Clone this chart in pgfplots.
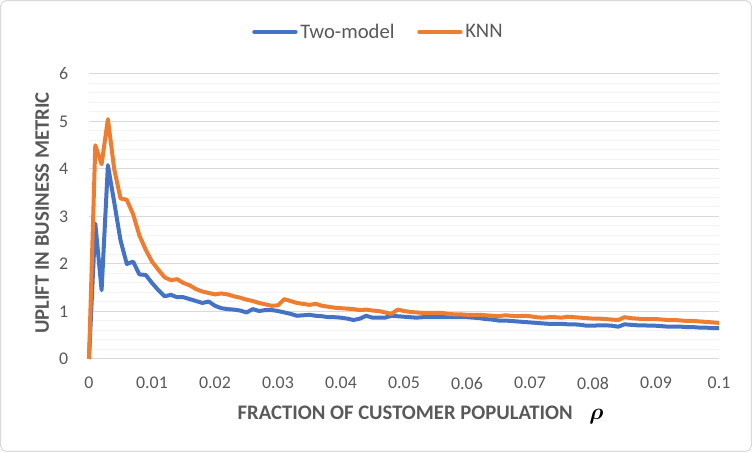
\documentclass[border=0pt]{standalone}
\usepackage{pgfplots}
\pgfplotsset{compat=1.18}
\usepackage{fontspec}
\setmainfont{Carlito}
\definecolor{cblue}{HTML}{4472C4}
\definecolor{corange}{HTML}{ED7D31}
\definecolor{ctext}{HTML}{595959}
\definecolor{cgrid}{HTML}{D9D9D9}
\definecolor{cminor}{HTML}{F2F2F2}
\begin{document}
\begin{tikzpicture}[x=1pt,y=1pt]
\useasboundingbox (0,0) rectangle (564,339);
\draw[color=cgrid, line width=0.75pt, rounded corners=4pt] (0.5,0.5) rectangle (563.5,338.5);
\begin{axis}[
  at={(66.75pt,69.75pt)}, anchor=south west,
  scale only axis, width=472.5pt, height=213.75pt,
  xmin=0, xmax=0.1, ymin=0, ymax=6,
  clip=false,
  /pgf/number format/assume math mode=true,
  xtick={0,0.01,0.02,0.03,0.04,0.05,0.06,0.07,0.08,0.09,0.1},
  xticklabels={0,0.01,0.02,0.03,0.04,0.05,0.06,0.07,0.08,0.09,0.1},
  ytick={0,1,2,3,4,5,6},
  yticklabels={0,1,2,3,4,5,6},
  minor y tick num=4,
  ymajorgrids, yminorgrids,
  major grid style={color=cgrid, line width=0.75pt},
  minor grid style={color=cminor, line width=0.75pt},
  axis line style={draw=none},
  major tick length=0pt, minor tick length=0pt,
  tick label style={font=\fontsize{13.4}{15}\selectfont, text=ctext, inner sep=0pt},
  xticklabel shift=13.3pt,
  yticklabel shift=15.5pt,
  xlabel={FRACTION OF CUSTOMER POPULATION\rlap{\hspace{12.5pt}\textcolor{black}{\fontsize{17}{20}\selectfont\boldmath$\rho$}}},
  xlabel style={at={(axis description cs:0.502,-0.214)}, anchor=base, font=\fontsize{15.5}{18}\selectfont\bfseries, text=ctext, inner sep=0pt},
  ylabel={UPLIFT IN BUSINESS METRIC},
  ylabel style={at={(axis description cs:-0.0635,0.512)}, anchor=base, rotate=0, font=\fontsize{15.5}{18}\selectfont\bfseries, text=ctext, inner sep=0pt},
  legend columns=2,
  legend style={draw=none, fill=none, at={(axis description cs:0.46,1.147)}, anchor=center,
    font=\fontsize{15.5}{18}\selectfont, text=ctext, inner sep=0pt,
    /tikz/every even column/.append style={column sep=15pt},
    nodes={inner sep=2pt}},
  legend cell align=left,
  legend image code/.code={\draw[#1, line width=3pt, line cap=round] (0pt,0pt) -- (31pt,0pt);},
]
\addplot[color=cblue, line width=3pt, line join=round, no markers] coordinates {
(0,0) (0.001,2.85) (0.002,1.45) (0.003,4.08) (0.004,3.3) (0.005,2.5) (0.006,2.0) (0.007,2.05) (0.008,1.78) (0.009,1.77)
(0.010,1.6) (0.011,1.45) (0.012,1.32) (0.013,1.35) (0.014,1.30) (0.015,1.30) (0.016,1.26) (0.017,1.22) (0.018,1.18) (0.019,1.21)
(0.020,1.12) (0.021,1.07) (0.022,1.05) (0.023,1.04) (0.024,1.02) (0.025,0.98) (0.026,1.05) (0.027,1.01) (0.028,1.03) (0.029,1.03)
(0.030,1.01) (0.031,0.98) (0.032,0.95) (0.033,0.91) (0.034,0.92) (0.035,0.93) (0.036,0.91) (0.037,0.90) (0.038,0.88) (0.039,0.88)
(0.040,0.87) (0.041,0.85) (0.042,0.82) (0.043,0.85) (0.044,0.91) (0.045,0.87) (0.046,0.87) (0.047,0.87) (0.048,0.91) (0.049,0.90)
(0.050,0.89) (0.051,0.88) (0.052,0.87) (0.053,0.88) (0.054,0.88) (0.055,0.88) (0.056,0.88) (0.057,0.88) (0.058,0.88) (0.059,0.88)
(0.060,0.88) (0.061,0.87) (0.062,0.86) (0.063,0.84) (0.064,0.83) (0.065,0.81) (0.066,0.81) (0.067,0.80) (0.068,0.79) (0.069,0.78)
(0.070,0.77) (0.071,0.76) (0.072,0.75) (0.073,0.74) (0.074,0.74) (0.075,0.74) (0.076,0.73) (0.077,0.73) (0.078,0.72) (0.079,0.70)
(0.080,0.70) (0.081,0.71) (0.082,0.71) (0.083,0.70) (0.084,0.68) (0.085,0.73) (0.086,0.72) (0.087,0.71) (0.088,0.71) (0.089,0.70)
(0.090,0.70) (0.091,0.69) (0.092,0.68) (0.093,0.68) (0.094,0.68) (0.095,0.67) (0.096,0.67) (0.097,0.66) (0.098,0.66) (0.099,0.65)
(0.100,0.65)
};
\addlegendentry{Two-model}
\addplot[color=corange, line width=3pt, line join=round, no markers] coordinates {
(0,0) (0.001,4.5) (0.002,4.1) (0.003,5.05) (0.004,4.0) (0.005,3.38) (0.006,3.35) (0.007,3.05) (0.008,2.6) (0.009,2.3)
(0.010,2.05) (0.011,1.88) (0.012,1.72) (0.013,1.66) (0.014,1.68) (0.015,1.6) (0.016,1.55) (0.017,1.47) (0.018,1.42) (0.019,1.39)
(0.020,1.36) (0.021,1.38) (0.022,1.36) (0.023,1.32) (0.024,1.29) (0.025,1.25) (0.026,1.22) (0.027,1.18) (0.028,1.15) (0.029,1.12)
(0.030,1.13) (0.031,1.26) (0.032,1.22) (0.033,1.18) (0.034,1.16) (0.035,1.14) (0.036,1.16) (0.037,1.12) (0.038,1.10) (0.039,1.08)
(0.040,1.07) (0.041,1.06) (0.042,1.05) (0.043,1.03) (0.044,1.04) (0.045,1.02) (0.046,1.01) (0.047,0.98) (0.048,0.95) (0.049,1.04)
(0.050,1.01) (0.051,0.99) (0.052,0.98) (0.053,0.97) (0.054,0.97) (0.055,0.97) (0.056,0.97) (0.057,0.95) (0.058,0.94) (0.059,0.94)
(0.060,0.93) (0.061,0.93) (0.062,0.93) (0.063,0.92) (0.064,0.91) (0.065,0.90) (0.066,0.92) (0.067,0.91) (0.068,0.90) (0.069,0.91)
(0.070,0.90) (0.071,0.88) (0.072,0.87) (0.073,0.88) (0.074,0.88) (0.075,0.87) (0.076,0.89) (0.077,0.88) (0.078,0.87) (0.079,0.86)
(0.080,0.85) (0.081,0.85) (0.082,0.84) (0.083,0.83) (0.084,0.82) (0.085,0.88) (0.086,0.86) (0.087,0.85) (0.088,0.84) (0.089,0.84)
(0.090,0.84) (0.091,0.83) (0.092,0.82) (0.093,0.82) (0.094,0.81) (0.095,0.80) (0.096,0.80) (0.097,0.79) (0.098,0.78) (0.099,0.77)
(0.100,0.76)
};
\addlegendentry{KNN}
\end{axis}
\end{tikzpicture}
\end{document}
